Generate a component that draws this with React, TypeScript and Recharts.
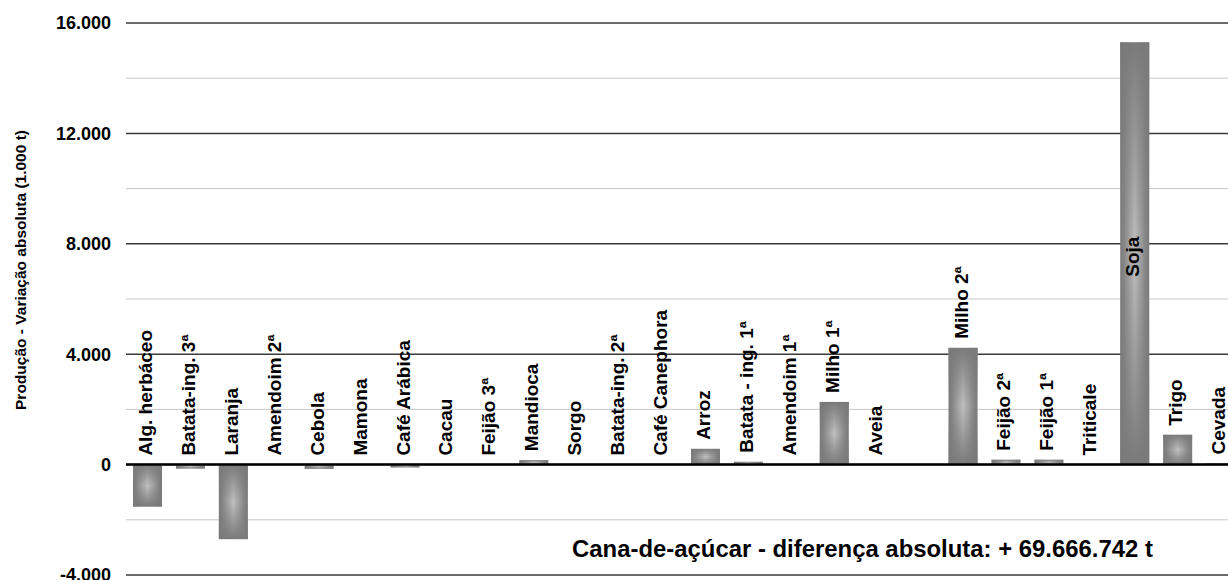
import React from "react";
import { BarChart, Bar, XAxis, YAxis, CartesianGrid, ReferenceLine, LabelList } from "recharts";

const categories = [
  "Alg. herbáceo", "Batata-ing. 3ª", "Laranja", "Amendoim 2ª", "Cebola", "Mamona",
  "Café Arábica", "Cacau", "Feijão 3ª", "Mandioca", "Sorgo", "Batata-ing. 2ª",
  "Café Canephora", "Arroz", "Batata - ing. 1ª", "Amendoim 1ª", "Milho 1ª", "Aveia",
  "", "Milho 2ª", "Feijão 2ª", "Feijão 1ª", "Triticale", "Soja", "Trigo", "Cevada",
];
const values = [
  -1520, -140, -2700, 0, -150, 0,
  -100, 0, 0, 160, 0, 0,
  0, 570, 100, 0, 2270, 0,
  0, 4230, 175, 175, 0, 15300, 1080, 40,
];
const yDomain = [-4000, 16000];
const majorTicks = [-4000, 0, 4000, 8000, 12000, 16000];
const minorTicks = [-2000, 2000, 6000, 10000, 14000];
const yTitle = "Produção - Variação absoluta (1.000 t)";
const note = "Cana-de-açúcar - diferença absoluta: + 69.666.742 t";

const data = categories.map((name, i) => ({ name, value: values[i] }));
const maxValue = Math.max(...values);
const font = "'Liberation Sans', Arial, sans-serif";

const fmt = (v: number) => {
  const s = String(Math.abs(v)).replace(/\B(?=(\d{3})+(?!\d))/g, ".");
  return v < 0 ? "-" + s : s;
};

const YTick = (props: any) => {
  const { x, y, payload } = props;
  return (
    <text x={x} y={y} dy="0.355em" textAnchor="end" fontSize={18} fontWeight="bold" fill="#000" fontFamily={font}>
      {fmt(payload.value)}
    </text>
  );
};

// light lines halfway between the labelled ticks (linear axis)
const minorLines = (args: any) => {
  const off = args?.offset;
  if (!off || typeof off.top !== "number" || typeof off.height !== "number") return [];
  const [lo, hi] = yDomain;
  return minorTicks.map((v) => off.top + ((hi - v) / (hi - lo)) * off.height);
};

const GradBar = (props: any) => {
  const { x, y, width, height, index } = props;
  const top = Math.min(y, y + height);
  const h = Math.abs(height);
  if (!h) return null;
  return (
    <g>
      <defs>
        <linearGradient id={`bh${index}`} x1="0" y1="0" x2="1" y2="0">
          <stop offset="0" stopColor="#7a7a7a" />
          <stop offset="0.12" stopColor="#858585" />
          <stop offset="0.5" stopColor="#c0c0c0" />
          <stop offset="0.88" stopColor="#858585" />
          <stop offset="1" stopColor="#7a7a7a" />
        </linearGradient>
        <linearGradient id={`bv${index}`} x1="0" y1="0" x2="0" y2="1">
          <stop offset="0" stopColor="#7a7a7a" stopOpacity={1} />
          <stop offset="0.5" stopColor="#7a7a7a" stopOpacity={0} />
          <stop offset="1" stopColor="#7a7a7a" stopOpacity={1} />
        </linearGradient>
      </defs>
      <rect x={x} y={top} width={width} height={h} fill={`url(#bh${index})`} />
      <rect x={x} y={top} width={width} height={h} fill={`url(#bv${index})`} />
    </g>
  );
};

const BarName = (props: any) => {
  const { x, y, width, height, value, index } = props;
  if (!value) return null;
  const cx = x + width / 2 - 2;
  const top = Math.min(y, y + height);
  const ty = values[index] === maxValue ? top + Math.abs(height) * 0.555 : top - 9;
  return (
    <text
      x={cx}
      y={ty}
      transform={`rotate(-90, ${cx}, ${ty})`}
      textAnchor="start"
      dominantBaseline="central"
      fontSize={19}
      fontWeight="bold"
      fill="#000"
      fontFamily={font}
    >
      {value}
    </text>
  );
};

const YTitle = () => (
  <text
    x={20}
    y={270}
    transform="rotate(-90, 20, 270)"
    textAnchor="middle"
    dominantBaseline="central"
    fontSize={15.5}
    fontWeight="bold"
    fill="#000"
    fontFamily={font}
  >
    {yTitle}
  </text>
);

export default function App() {
  return (
    <div
      style={{
        position: "fixed",
        left: 0,
        top: 0,
        width: 1228,
        height: 580,
        overflow: "hidden",
        background: "#fff",
      }}
    >
      <BarChart
        width={1260}
        height={600}
        data={data}
        margin={{ top: 23, right: 18, left: 0, bottom: 25 }}
        barSize={29}
      >
        <CartesianGrid
          vertical={false}
          horizontalCoordinatesGenerator={minorLines}
          stroke="#c8c8c8"
          strokeWidth={1}
        />
        <CartesianGrid vertical={false} stroke="#3a3a3a" strokeWidth={1.5} />
        <XAxis dataKey="name" hide />
        <YAxis
          width={126}
          domain={yDomain}
          ticks={majorTicks}
          interval={0}
          axisLine={false}
          tickLine={false}
          tickSize={0}
          tickMargin={15}
          tick={<YTick />}
          label={<YTitle />}
        />
        <Bar dataKey="value" shape={<GradBar />} isAnimationActive={false}>
          <LabelList dataKey="name" content={<BarName />} />
        </Bar>
        <ReferenceLine y={0} stroke="#000" strokeWidth={2.5} />
      </BarChart>
      <div
        style={{
          position: "absolute",
          left: 572,
          top: 537,
          fontFamily: font,
          fontSize: 23.9,
          fontWeight: "bold",
          lineHeight: 1,
          whiteSpace: "nowrap",
          color: "#000",
        }}
      >
        {note}
      </div>
    </div>
  );
}
